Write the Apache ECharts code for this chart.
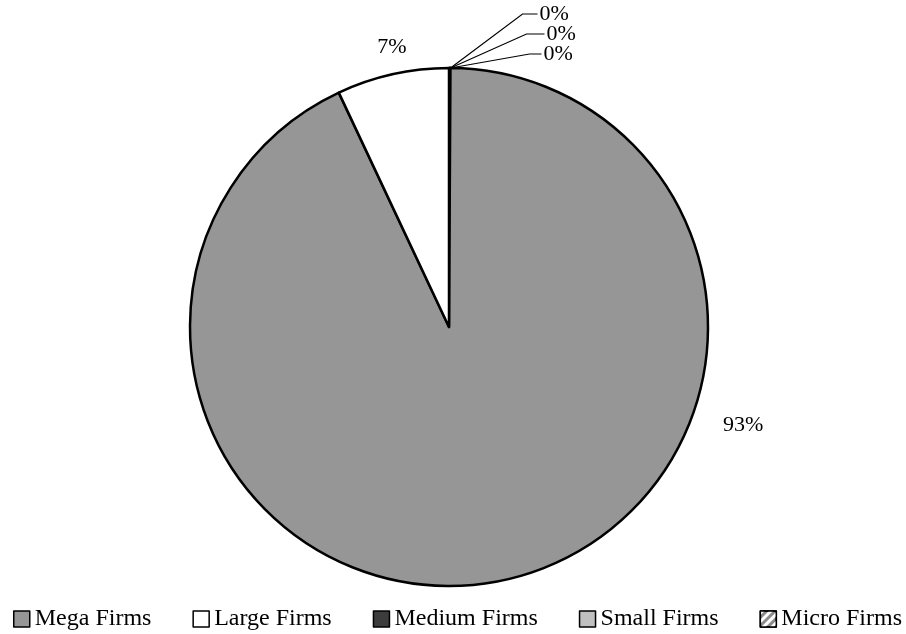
<!DOCTYPE html>
<html>
<head>
<meta charset="utf-8">
<script src="https://cdn.jsdelivr.net/npm/echarts@6/dist/echarts.min.js"></script>
<style>
html, body { margin: 0; padding: 0; background: #fff; }
#main { width: 906px; height: 634px; }
</style>
</head>
<body>
<div id="main"></div>
<script>
// firm size classes and their share of the total (%)
const categories = ['Mega Firms', 'Large Firms', 'Medium Firms', 'Small Firms', 'Micro Firms']
const shares = [93, 7, 0.04, 0.03, 0.02]
const colors = ['#969696', '#ffffff', '#3c3c3c', '#c0c0c0', '#8c8c8c']

// the tiny classes sit just right of 12 o'clock, then Mega and Large clockwise
const sliceOrder = [2, 3, 4, 0, 1]

const cx = 449
const cy = 327
const R = 259
const font = 'Liberation Serif, Times New Roman, serif'

function polar(deg, dist) {
  const a = deg * Math.PI / 180
  return [cx + dist * Math.sin(a), cy - dist * Math.cos(a)]
}

const pieData = sliceOrder.map(i => {
  const item = {
    name: categories[i],
    value: shares[i],
    itemStyle: { color: colors[i] }
  }
  if (i === 4) {
    item.itemStyle.decal = {
      symbol: 'rect',
      symbolSize: 1,
      dashArrayX: [1, 0],
      dashArrayY: [3, 3],
      rotation: -Math.PI / 4,
      color: '#ffffff'
    }
  }
  if (shares[i] >= 1) {
    item.labelLine = { show: false }
  }
  return item
})

var myChart = echarts.init(document.getElementById('main'))
var option = {
  animation: false,
  backgroundColor: '#fff',
  legend: {
    data: categories,
    left: 13,
    top: 607,
    width: 893,
    padding: 0,
    itemGap: 41,
    itemWidth: 16,
    itemHeight: 16,
    icon: 'rect',
    itemStyle: {
      borderColor: '#000',
      borderWidth: 1.5
    },
    textStyle: {
      fontFamily: font,
      fontSize: 24,
      color: '#000'
    }
  },
  series: [{
    type: 'pie',
    center: [cx, cy],
    radius: R,
    startAngle: 90,
    clockwise: true,
    percentPrecision: 0,
    avoidLabelOverlap: false,
    data: pieData,
    itemStyle: {
      borderColor: '#000',
      borderWidth: 2.5
    },
    label: {
      show: true,
      position: 'outside',
      formatter: '{d}%',
      fontFamily: font,
      fontSize: 22,
      color: '#000'
    },
    labelLine: {
      show: true,
      length: 20,
      length2: 15,
      lineStyle: { color: '#000', width: 1.2 }
    },
    labelLayout: function (params) {
      const name = pieData[params.dataIndex].name
      if (name === 'Mega Firms') {
        const p = polar(108.4, 310)
        return { x: p[0], y: p[1], align: 'center', verticalAlign: 'middle' }
      }
      if (name === 'Large Firms') {
        const p = polar(348.5, 286)
        return { x: p[0], y: p[1], align: 'center', verticalAlign: 'middle' }
      }
      // small classes: stacked leader lines up to the right
      const k = params.dataIndex
      const ax = cx + 1.5
      const ay = cy - R
      const bend = [[72, -54], [76, -34], [79, -14]][k]
      const end = [87, 94, 91][k]
      return {
        x: ax + end + 2,
        y: ay + bend[1],
        align: 'left',
        verticalAlign: 'middle',
        labelLinePoints: [[ax, ay], [ax + bend[0], ay + bend[1]], [ax + end, ay + bend[1]]]
      }
    }
  }]
}
myChart.setOption(option)
window.addEventListener('resize', () => {
  myChart.resize()
}, false)
</script>
</body>
</html>
